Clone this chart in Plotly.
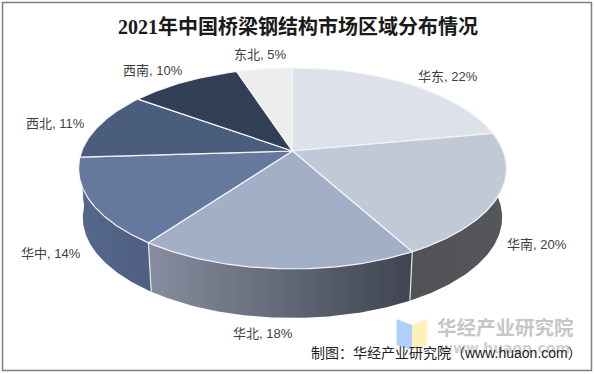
import numpy as np
import plotly.graph_objects as go

# ---- data ----
regions = ["华东", "华南", "华北", "华中", "西北", "西南", "东北"]
shares = [22, 20, 18, 14, 11, 10, 5]
top_colors = ["#DCE1EA", "#C1C9D7", "#A2AFC6", "#65799F", "#4A5D7C", "#323E56", "#EDEDED"]
wall_colors = {
    "华东": ("#55565A", "#55565A"),
    "华南": ("#515257", "#56575B"),
    "华北": ("#878E9F", "#3F4450"),
    "华中": ("#55688C", "#4E5F80"),
    "西北": ("#55688C", "#55688C"),
}
label_pos = {
    "华东": (448, 76), "华南": (537, 244), "华北": (263, 333), "华中": (51, 253),
    "西北": (55, 123), "西南": (153, 70), "东北": (260, 54),
}
title_text = "2021年中国桥梁钢结构市场区域分布情况"
source_text = "制图：华经产业研究院（www.huaon.com）"
wm_name = "华经产业研究院"
wm_url = "www.huaon.com"

# ---- perspective projection of the pie disc ----
CX, CY = 292.5, 151.0
R_TOP, R_BOT, B, K, DEPTH = 210.7, 206.5, 97.4, 0.174, 49.0


def project(deg, radius=1.0, bottom=False):
    a = np.radians(deg)
    u, v = radius * np.sin(a), -radius * np.cos(a)
    d = 1 - K * v
    R = R_BOT if bottom else R_TOP
    return CX + R * u / d, CY + (DEPTH if bottom else 0) + B * v / d


def poly(xs, ys, color=None, line=None, width=0, grad=None):
    kw = dict(x=list(xs), y=list(ys), mode="lines", hoverinfo="skip", showlegend=False)
    if line:
        kw["line"] = dict(color=line, width=width)
    else:
        kw["line"] = dict(width=0)
    if color or grad:
        kw["fill"] = "toself"
    if color:
        kw["fillcolor"] = color
    if grad:
        kw["fillgradient"] = dict(type="horizontal", colorscale=[[0, grad[0]], [1, grad[1]]])
    return go.Scatter(**kw)


fig = go.Figure()
cum = np.cumsum([0] + shares) * 3.6

# side walls
for i, name in enumerate(regions):
    if name not in wall_colors:
        continue
    a = np.linspace(cum[i], cum[i + 1], 90)
    xt, yt = project(a)
    xb, yb = project(a, bottom=True)
    fig.add_trace(poly(np.r_[xt, xb[::-1], xt[0]], np.r_[yt, yb[::-1], yt[0]], grad=wall_colors[name]))
for deg in cum[2:4]:
    xt, yt = project(deg)
    xb, yb = project(deg, bottom=True)
    fig.add_trace(poly([xt, xb], [yt, yb], line="#E6E8EC", width=1.2))

# top surface
for i, name in enumerate(regions):
    a = np.linspace(cum[i], cum[i + 1], 120)
    xt, yt = project(a)
    fig.add_trace(poly(np.r_[CX, xt, CX], np.r_[CY, yt, CY], color=top_colors[i], line="#F4F5F8", width=1.2))

# watermark logo
fig.add_trace(poly([396.5, 412, 412, 396.5, 396.5], [319, 325, 350, 345, 319], color="#B0D0FC"))
fig.add_trace(poly([412, 427, 427, 412, 412], [325, 319, 345, 350, 325], color="#FDF0B8"))

CJK = "Liberation Sans, Noto Sans CJK SC, sans-serif"
ann = []
for name, s in zip(regions, shares):
    x, y = label_pos[name]
    ann.append(dict(x=x, y=y, text=f"{name}, {s}%", font=dict(family=CJK, size=13, color="#404040")))
ann.append(dict(x=297.5, y=26.5, text=f"<b>{title_text}</b>",
                font=dict(family="Liberation Serif, Noto Sans CJK SC, serif", size=20, color="#1a1a1a")))
ann.append(dict(x=505, y=328, text=f"<b>{wm_name}</b>", font=dict(family=CJK, size=19.5, color="#C6C6C6")))
ann.append(dict(x=505, y=348, text=f"<b>{wm_url}</b>",
                font=dict(family="DejaVu Sans, sans-serif", size=14, color="#D0D0D0")))
ann.append(dict(x=446, y=353, text=source_text, font=dict(family=CJK, size=14, color="#202020")))
for a in ann:
    a.update(xref="x", yref="y", showarrow=False, xanchor="center", yanchor="middle")

fig.update_layout(
    width=595, height=374, margin=dict(l=0, r=0, t=0, b=0),
    paper_bgcolor="white", plot_bgcolor="white", annotations=ann, showlegend=False,
    xaxis=dict(range=[0, 595], visible=False, fixedrange=True),
    yaxis=dict(range=[374, 0], visible=False, fixedrange=True),
    shapes=[dict(type="rect", xref="x", yref="y", x0=2.5, y0=2.5, x1=591.5, y1=370.5,
                 line=dict(color="#808080", width=1.5))],
)
fig.write_html("out.html", config=dict(displayModeBar=False),
               post_script="document.body.style.margin='0';document.body.style.overflow='hidden';")
